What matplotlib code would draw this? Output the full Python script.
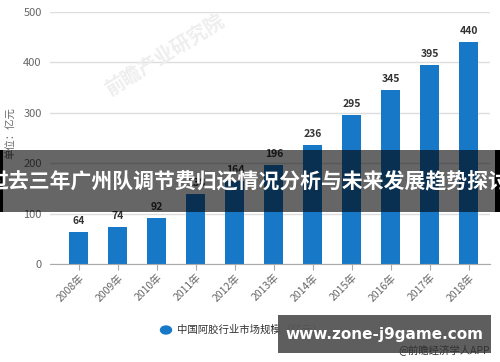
import numpy as np
import matplotlib.pyplot as plt
from matplotlib.patches import Rectangle

plt.rcParams['font.family'] = ['Noto Sans CJK SC', 'DejaVu Sans']

# data
years = ['2008年', '2009年', '2010年', '2011年', '2012年', '2013年',
         '2014年', '2015年', '2016年', '2017年', '2018年']
market_size = [64, 74, 92, 138, 164, 196, 236, 295, 345, 395, 440]
y_ticks = [0, 100, 200, 300, 400, 500]
series_name = '中国阿胶行业市场规模（亿元）'
banner_title = '过去三年广州队调节费归还情况分析与未来发展趋势探讨'

bar_color = '#1778c8'
grey = '#666666'

fig = plt.figure(figsize=(5.0, 3.62), dpi=100)
ax = fig.add_axes([0.10, 0.2707, 0.88, 0.6962])

x = np.arange(len(years))
ax.bar(x, market_size, width=0.49, color=bar_color, zorder=2)

# value labels
for xi, v in zip(x, market_size):
    ax.text(xi, v + 12, str(v), ha='center', va='bottom', fontsize=7.5,
            fontweight='bold', color='#333333')

ax.set_ylim(0, 500)
ax.set_xlim(-0.74, 10.54)
ax.set_yticks(y_ticks)
ax.set_yticklabels([str(t) for t in y_ticks], fontsize=8, color=grey)
ax.set_xticks(x)
ax.set_xticklabels(years, rotation=45, ha='right', rotation_mode='anchor',
                   fontsize=7.5, color=grey)
ax.tick_params(axis='y', length=0, pad=6)
ax.tick_params(axis='x', length=4, color='#aaaaaa', pad=2)

ax.grid(axis='y', color='#dddddd', linewidth=1, zorder=0)
for s in ['top', 'right', 'left']:
    ax.spines[s].set_visible(False)
ax.spines['bottom'].set_color('#aaaaaa')

# y unit label
fig.text(0.022, 1 - 133 / 362, '单位：亿元', rotation=90, ha='center', va='center',
         fontsize=7.5, color=grey)

# faint watermark
fig.text(0.33, 1 - 55 / 362, '前瞻产业研究院', rotation=32, ha='center', va='center',
         fontsize=14, fontweight='bold', color='#eeeeee', zorder=0)

# legend
fig.patches.append(plt.Circle((166 / 500, 1 - 330 / 362), 0.011,
                              transform=fig.transFigure, color=bar_color,
                              figure=fig))
fig.text(177 / 500, 1 - 330 / 362, series_name, ha='left', va='center',
         fontsize=7.5, color='#333333')

# dark banner over the chart
fig.patches.append(Rectangle((0, 1 - 212 / 362), 1, 62 / 362,
                             transform=fig.transFigure, facecolor='black',
                             alpha=0.6, figure=fig, zorder=5))
fig.patches.append(Rectangle((0, 1 - 212 / 362), 0.006, 62 / 362,
                             transform=fig.transFigure, facecolor='black',
                             figure=fig, zorder=5))
fig.patches.append(Rectangle((0.99, 1 - 212 / 362), 0.01, 62 / 362,
                             transform=fig.transFigure, facecolor='black',
                             figure=fig, zorder=5))
fig.text(0.497, 1 - 182 / 362, banner_title, ha='center', va='center',
         fontsize=15, fontweight='bold', color='white', zorder=6)

# site watermark box
fig.patches.append(Rectangle((278 / 500, 1 - 353 / 362), 213 / 500, 38 / 362,
                             transform=fig.transFigure, facecolor='#555555',
                             alpha=0.95, figure=fig, zorder=5))
fig.text(384 / 500, 1 - 335 / 362, 'www.zone-j9game.com', ha='center',
         va='center', fontsize=11, fontweight='bold', color='white',
         family='DejaVu Sans', zorder=6)
fig.text(490 / 500, 1 - 350 / 362, '@前瞻经济学人APP', ha='right', va='center',
         fontsize=7.5, color='#333333', zorder=7)

fig.savefig('out.png', dpi=100)
